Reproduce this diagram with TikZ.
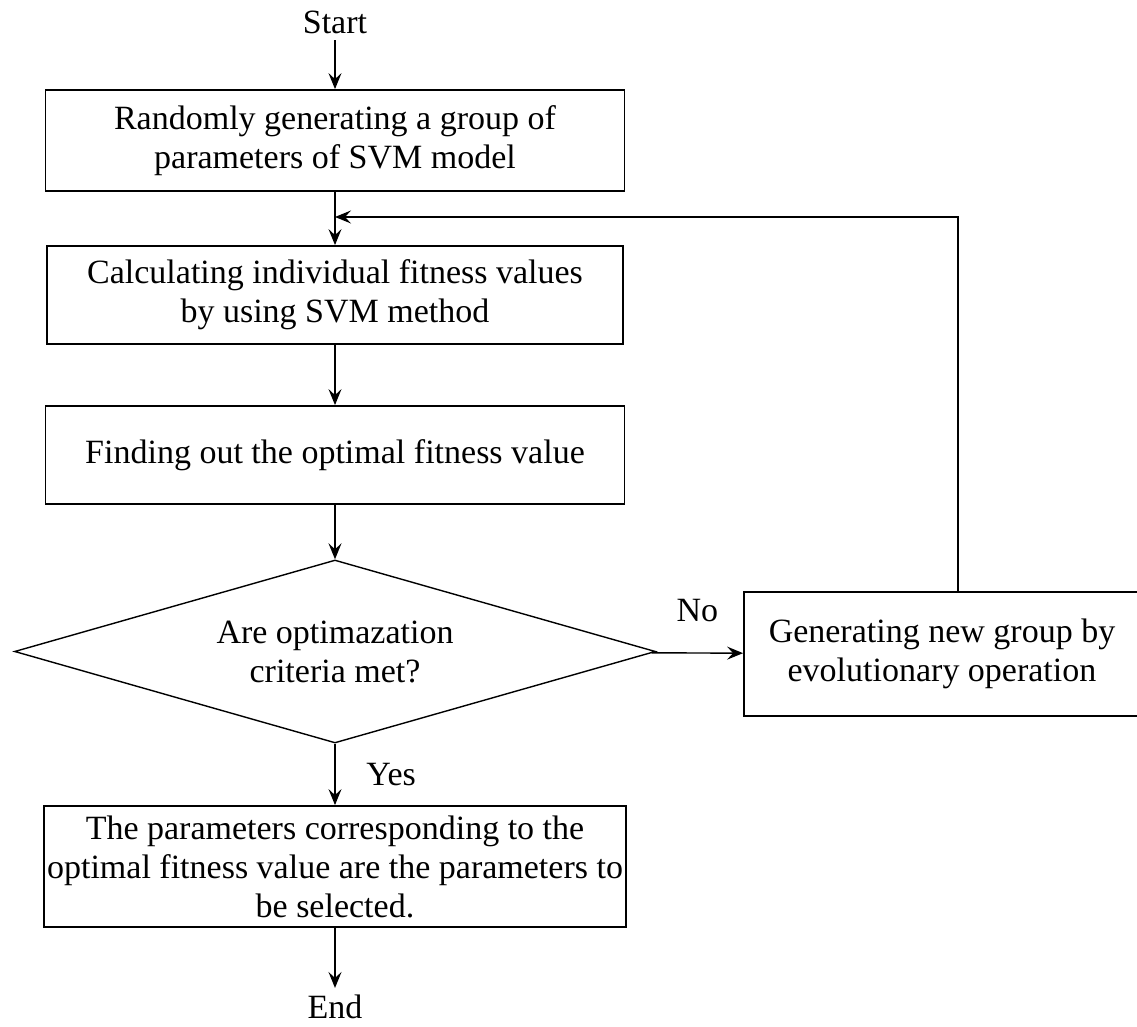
\documentclass[tikz,border=0pt]{standalone}
\usepackage{fontspec}
\setmainfont{Liberation Serif}
\usetikzlibrary{shapes.geometric,arrows.meta}
\tikzset{
  box/.style={draw, rectangle, line width=0.9pt, inner sep=0pt, align=center},
  decision/.style={draw, diamond, line width=0.7pt, inner sep=0pt, aspect=3.5, align=center},
  flow/.style={->, line width=0.7pt}
}
\begin{document}
\begin{tikzpicture}[x=0.5pt, y=-0.5pt, font=\fontsize{17}{19.5}\selectfont,
  >={Stealth[length=8pt,width=6.5pt,inset=3pt]}]
\useasboundingbox (0,0) rectangle (1137,1027);
\node (start) at (335,22) {Start};
\node[box, minimum width=289.5pt, minimum height=50.5pt] (init) at (335,140.5) {Randomly generating a group of\\parameters of SVM model};
\node[box, minimum width=288pt, minimum height=49pt] (fit) at (335,295) {Calculating individual fitness values\\by using SVM method};
\node[box, minimum width=289.5pt, minimum height=49pt] (best) at (335,455) {Finding out the optimal fitness value};
\node[decision, minimum width=320.5pt, minimum height=91.5pt] (crit) at (335,651.5) {Are optimazation\\criteria met?};
\node[box, minimum width=198pt, minimum height=62pt] (gen) at (942,654) {Generating new group by\\evolutionary operation};
\node[box, minimum width=291pt, minimum height=60.5pt] (sel) at (335,866.5) {The parameters corresponding to the\\optimal fitness value are the parameters to\\be selected.};
\node (end) at (335,1007) {End};
\coordinate (join) at (335,217);
\draw[flow] (start) -- (init);
\draw[flow] (init) -- (fit);
\draw[flow] (fit) -- (best);
\draw[flow] (best) -- (crit);
\draw[flow] (crit) -- (gen) node[midway, above=12pt]{No};
\draw[flow] ([xshift=8pt]gen.north) |- (join);
\draw[flow] (crit) -- (sel) node[midway, right=12pt]{Yes};
\draw[flow] (sel) -- (end);
\end{tikzpicture}
\end{document}
